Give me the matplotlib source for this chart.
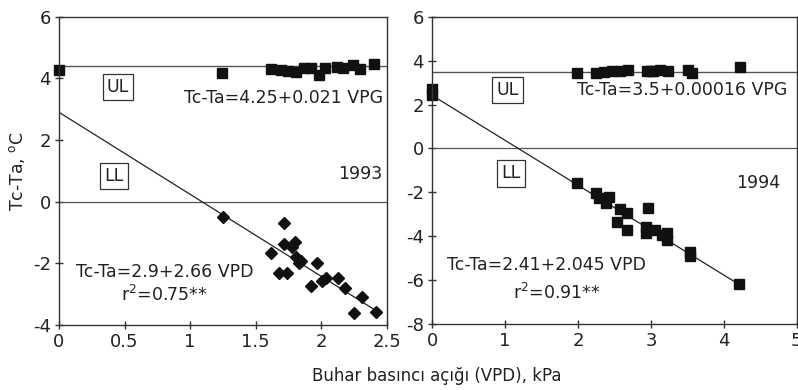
import matplotlib
matplotlib.use("Agg")
import matplotlib.pyplot as plt
import numpy as np

plt.rcParams['font.family'] = ['DejaVu Sans']
plt.rcParams['axes.unicode_minus'] = False

# ---------------- 1993 data ----------------
ul93_x = [0.0, 1.24, 1.62, 1.69, 1.75, 1.81, 1.87, 1.92, 1.98, 2.03, 2.12, 2.17, 2.24, 2.30, 2.40]
ul93_y = [4.26, 4.18, 4.29, 4.27, 4.25, 4.22, 4.33, 4.33, 4.12, 4.33, 4.36, 4.33, 4.43, 4.29, 4.45]
ll93_x = [1.25, 1.72, 1.72, 1.80, 1.78, 1.62, 1.81, 1.85, 1.83, 1.97, 1.68, 1.74, 1.92, 2.01, 2.04,
          2.13, 2.18, 2.31, 2.25, 2.42]
ll93_y = [-0.51, -0.68, -1.37, -1.30, -1.46, -1.67, -1.78, -1.91, -2.00, -1.98, -2.30, -2.30, -2.72,
          -2.56, -2.49, -2.49, -2.81, -3.08, -3.62, -3.59]
ul93_level = 4.40
ll93_a, ll93_b = 2.9, -2.66
ll93_xmax = 2.42

# ---------------- 1994 data ----------------
ul94_x = [1.98, 2.25, 2.35, 2.46, 2.57, 2.69, 2.94, 3.00, 3.03, 3.12, 3.24, 3.51, 3.56, 4.22]
ul94_y = [3.45, 3.45, 3.49, 3.54, 3.54, 3.57, 3.54, 3.52, 3.54, 3.55, 3.54, 3.57, 3.45, 3.72]
ll94_x = [0.0, 0.0, 1.98, 2.25, 2.29, 2.43, 2.39, 2.57, 2.67, 2.54, 2.67, 2.96, 2.93, 2.93, 3.05,
          3.15, 3.22, 3.22, 3.53, 3.53, 4.21]
ll94_y = [2.70, 2.45, -1.59, -2.02, -2.27, -2.20, -2.50, -2.78, -2.93, -3.34, -3.72, -2.70, -3.57,
          -3.87, -3.72, -3.95, -3.87, -4.17, -4.70, -4.90, -6.19]
ul94_level = 3.5
ll94_a, ll94_b = 2.41, -2.045
ll94_xmax = 4.2

x93_ticks = [0, 0.5, 1, 1.5, 2, 2.5]
x93_labels = ['0', '0.5', '1', '1.5', '2', '2.5']
y93_ticks = [-4, -2, 0, 2, 4, 6]
x94_ticks = [0, 1, 2, 3, 4, 5]
y94_ticks = [-8, -6, -4, -2, 0, 2, 4, 6]

W, H = 798, 390
fig = plt.figure(figsize=(W / 100, H / 100), dpi=100)

ax1 = fig.add_axes([59 / W, 65 / H, 327.7 / W, 308.3 / H])
ax2 = fig.add_axes([432.3 / W, 66 / H, 364.4 / W, 307.3 / H])

spine_col = '#333333'
fs_tick = 13
fs_txt = 12.5

for ax in (ax1, ax2):
    for s in ax.spines.values():
        s.set_color(spine_col)
        s.set_linewidth(1.0)
    ax.tick_params(direction='inout', length=6, width=1.0, color=spine_col,
                   labelsize=fs_tick, labelcolor='#222222', pad=3)

box = dict(boxstyle='square,pad=0.25', fc='white', ec='#333333', lw=0.9)

# ---- left panel ----
ax1.set_xlim(0, 2.5)
ax1.set_ylim(-4, 6)
ax1.set_xticks(x93_ticks)
ax1.set_xticklabels(x93_labels)
ax1.set_yticks(y93_ticks)
ax1.axhline(ul93_level, color='#555555', lw=1.0)
ax1.axhline(0, color='#555555', lw=0.9)
xx = np.array([0, ll93_xmax])
ax1.plot(xx, ll93_a + ll93_b * xx, color='#222222', lw=0.9)
ax1.plot(ul93_x, ul93_y, 's', color='#111111', ms=7.5, clip_on=False)
ax1.plot(ll93_x, ll93_y, 'D', color='#111111', ms=6.2, clip_on=False)
ax1.text(0.45, 3.72, 'UL', fontsize=fs_txt, ha='center', va='center', color='#222222', bbox=box)
ax1.text(0.42, 0.83, 'LL', fontsize=fs_txt, ha='center', va='center', color='#222222', bbox=box)
ax1.text(2.47, 3.36, 'Tc-Ta=4.25+0.021 VPG', fontsize=fs_txt, ha='right', va='center', color='#222222')
ax1.text(2.465, 0.9, '1993', fontsize=fs_txt, ha='right', va='center', color='#222222')
ax1.text(0.81, -2.28, 'Tc-Ta=2.9+2.66 VPD', fontsize=fs_txt, ha='center', va='center', color='#222222')
ax1.text(0.80, -3.03, r'r$^2$=0.75**', fontsize=fs_txt, ha='center', va='center', color='#222222')
ax1.set_ylabel(r'Tc-Ta, $^{\rm o}$C', fontsize=fs_txt, color='#222222', labelpad=4)

# ---- right panel ----
ax2.set_xlim(0, 5)
ax2.set_ylim(-8, 6)
ax2.set_xticks(x94_ticks)
ax2.set_yticks(y94_ticks)
ax2.axhline(ul94_level, color='#555555', lw=1.0)
ax2.axhline(0, color='#555555', lw=0.9)
xx = np.array([0, ll94_xmax])
ax2.plot(xx, ll94_a + ll94_b * xx, color='#222222', lw=0.9)
ax2.plot(ul94_x, ul94_y, 's', color='#111111', ms=7.5, clip_on=False)
ax2.plot(ll94_x, ll94_y, 's', color='#111111', ms=7.5, clip_on=False)
ax2.text(1.03, 2.66, 'UL', fontsize=fs_txt, ha='center', va='center', color='#222222', bbox=box)
ax2.text(1.08, -1.14, 'LL', fontsize=fs_txt, ha='center', va='center', color='#222222', bbox=box)
ax2.text(1.98, 2.66, 'Tc-Ta=3.5+0.00016 VPG', fontsize=fs_txt, ha='left', va='center', color='#222222')
ax2.text(4.77, -1.56, '1994', fontsize=fs_txt, ha='right', va='center', color='#222222')
ax2.text(1.57, -5.31, 'Tc-Ta=2.41+2.045 VPD', fontsize=fs_txt, ha='center', va='center', color='#222222')
ax2.text(1.71, -6.6, r'r$^2$=0.91**', fontsize=fs_txt, ha='center', va='center', color='#222222')

fig.text(437 / W, 1 - 376 / H, 'Buhar basıncı açığı (VPD), kPa', fontsize=12,
         ha='center', va='center', color='#222222')

fig.savefig('out.png', dpi=100)
